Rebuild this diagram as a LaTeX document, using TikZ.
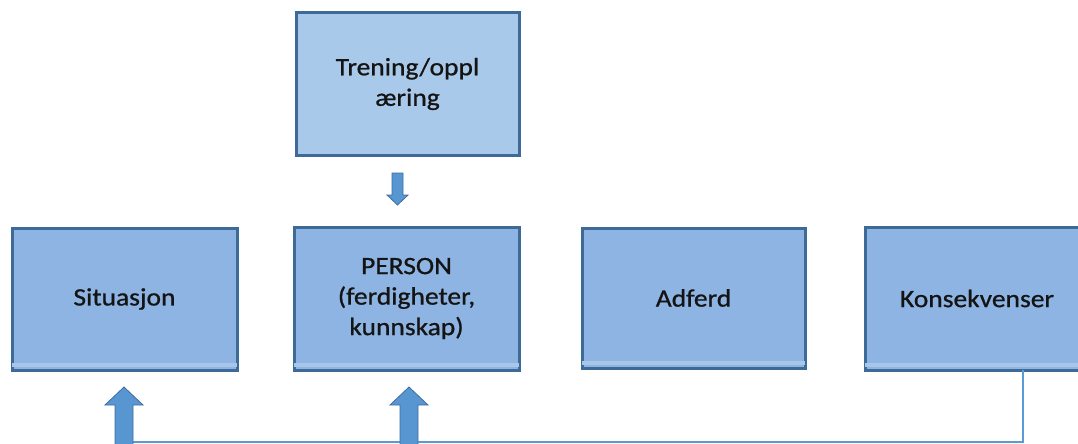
\documentclass[tikz,border=0pt]{standalone}
\usepackage{fontspec}
\setmainfont{Carlito}[FakeStretch=1.1,FakeBold=0.8]
\definecolor{boxfill}{RGB}{141,180,226}
\definecolor{topfill}{RGB}{169,201,234}
\definecolor{boxline}{RGB}{62,106,152}
\definecolor{strip}{RGB}{168,198,232}
\definecolor{arrowfill}{RGB}{88,150,210}
\definecolor{arrowline}{RGB}{62,110,160}
\definecolor{linkcol}{RGB}{91,155,213}
\tikzset{
  x=1pt,y=-1pt,
  blockbox/.style={draw=boxline,line width=3pt,fill=boxfill,inner sep=0pt,
    font=\fontsize{25}{30.5}\selectfont,text=black!92,align=center},
  blockarrow/.style={fill=arrowfill,draw=arrowline,line width=0.8pt},
  linkline/.style={draw=linkcol,line width=2.8pt}
}
\newcommand{\bottomstrip}[1]{%
  \fill[strip] ([xshift=1.5pt,yshift=5pt]#1.south west) rectangle ([xshift=-1.5pt,yshift=9pt]#1.south east);}
\begin{document}
\begin{tikzpicture}
\useasboundingbox (0,0) rectangle (1078,444);
% boxes
\node[blockbox,fill=topfill,minimum width=223pt,minimum height=142pt] (tren) at (407.5,84) {Trening/oppl\\æring};
\node[blockbox,minimum width=225pt,minimum height=142pt] (sit) at (124.5,299) {Situasjon};
\node[blockbox,minimum width=225pt,minimum height=143pt] (pers) at (406.5,298.5) {PERSON\\(ferdigheter,\\kunnskap)};
\node[blockbox,minimum width=223pt,minimum height=140pt] (adf) at (693.5,298) {Adferd};
\node[blockbox,minimum width=224pt,minimum height=143pt] (kons) at (977,298.5) {Konsekvenser};
\bottomstrip{sit}
\bottomstrip{pers}
\bottomstrip{adf}
\bottomstrip{kons}
% connector line
\coordinate (k1) at (1023,370);
\coordinate (k2) at (1023,442);
\coordinate (s2) at (124,442);
\draw[linkline] (k1) -- (k2) -- (s2);
% up arrows
\foreach \cx in {124,409}{
  \draw[blockarrow] (\cx-9,450) -- (\cx-9,405) -- (\cx-19,405) -- (\cx,387) -- (\cx+19,405) -- (\cx+9,405) -- (\cx+9,450);
}
% down arrow
\draw[blockarrow] (392,173) -- (403,173) -- (403,195) -- (408,195) -- (397.5,205) -- (387,195) -- (392,195) -- cycle;
\end{tikzpicture}
\end{document}
